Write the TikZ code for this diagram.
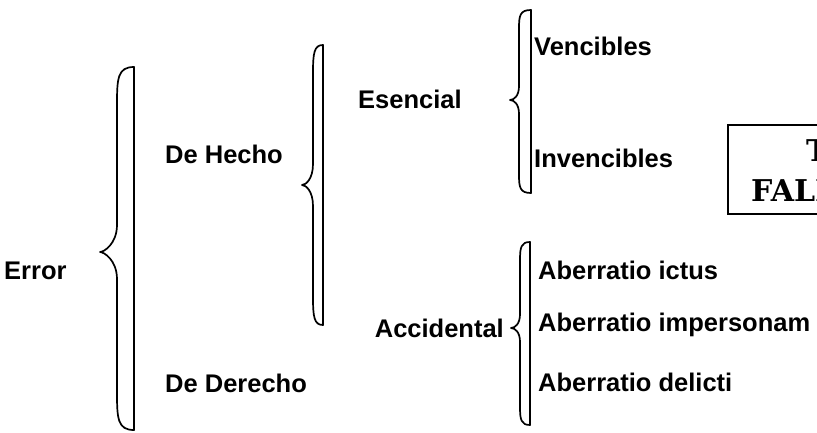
\documentclass[tikz,border=0pt]{standalone}
\usepackage{fontspec}
\setmainfont{Liberation Sans}
\newfontfamily\stampfont{DejaVu Serif}
\tikzset{
  label/.style={font=\fontsize{25.5}{30}\selectfont\bfseries, inner sep=0pt},
  stamptext/.style={font=\stampfont\fontsize{30}{34}\selectfont\bfseries, inner sep=0pt, anchor=base west},
  bracestroke/.style={line width=1.7pt, line join=round, line cap=round},
}
% closed curly brace: #1 top, #2 bottom, #3 tip x, #4 tip y, #5 body x, #6 line x
\newcommand{\closedbrace}[6]{%
  \pgfmathsetmacro{\bh}{#2-#1}%
  \pgfmathsetmacro{\ca}{0.1*\bh}%
  \pgfmathsetmacro{\cb}{0.075*\bh}%
  \draw[bracestroke] (#6,#1) -- (#6,#2);
  \draw[bracestroke] (#6,#1) .. controls (#5+1,#1) and (#5,#1+0.3*\ca) .. (#5,#1+\ca)
    -- (#5,#4-\cb) .. controls (#5,#4-0.3*\cb) and (#3+4,#4) .. (#3,#4)
    .. controls (#3+4,#4) and (#5,#4+0.3*\cb) .. (#5,#4+\cb)
    -- (#5,#2-\ca) .. controls (#5,#2-0.3*\ca) and (#5+1,#2) .. (#6,#2);
}
\begin{document}
\begin{tikzpicture}[x=1pt,y=-1pt]
\useasboundingbox (0,0) rectangle (817,433);

% braces
\closedbrace{67}{430}{100}{252}{117}{134}
\closedbrace{45}{325}{302}{185}{313}{323}
\closedbrace{10}{193}{510}{100}{519}{531}
\closedbrace{242}{425}{511}{328}{520}{530}

% labels
\node[label, anchor=west] (error) at (4,271) {Error};
\node[label, anchor=west] (hecho) at (165,154) {De Hecho};
\node[label, anchor=west] (derecho) at (165,383) {De Derecho};
\node[label, anchor=west] (esencial) at (358,99) {Esencial};
\node[label, anchor=east] (accidental) at (504,328) {Accidental};
\node[label, anchor=west] (vencibles) at (534,46) {Vencibles};
\node[label, anchor=west] (invencibles) at (534,158) {Invencibles};
\node[label, anchor=west] (ictus) at (538,270) {Aberratio ictus};
\node[label, anchor=west] (impersonam) at (538,325) {Aberratio impersonam};
\node[label, anchor=west] (delicti) at (538,382) {Aberratio delicti};

% framed stamp at the right edge
\draw[line width=1.8pt] (840,125) -- (728,125) -- (728,214) -- (840,214);
\node[stamptext] (stampA) at (806,161) {T};
\node[stamptext] (stampB) at (751,201) {FALL};
\end{tikzpicture}
\end{document}
